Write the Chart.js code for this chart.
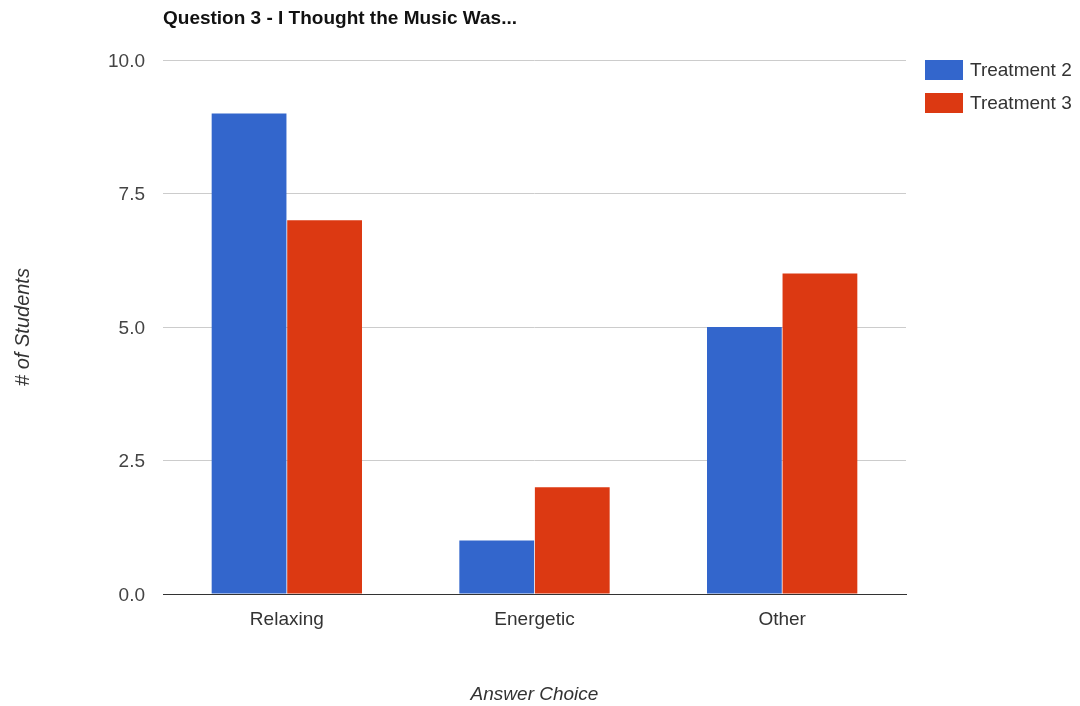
<!DOCTYPE html>
<html>
<head>
<meta charset="utf-8">
<script src="https://cdn.jsdelivr.net/npm/chart.js@4/dist/chart.umd.min.js"></script>
<style>
  html, body { margin: 0; padding: 0; background: #fff; }
  #wrap { width: 1080px; height: 706px; position: relative; }
</style>
</head>
<body>
<div id="wrap"><canvas id="c" width="1080" height="706"></canvas></div>
<script>
// Survey answers per music treatment
const categories = ['Relaxing', 'Energetic', 'Other'];
const treatment2 = [9, 1, 5];
const treatment3 = [7, 2, 6];
const seriesNames = ['Treatment 2', 'Treatment 3'];
const yTicks = [0, 2.5, 5, 7.5, 10];

const chartTitle = 'Question 3 - I Thought the Music Was...';
const xTitle = 'Answer Choice';
const yTitle = '# of Students';

const colors = ['#3366cc', '#dc3912'];
const FONT = 'Arial, "Liberation Sans", sans-serif';

// Title drawn flush with the plot area's left edge
const titlePlugin = {
  id: 'topTitle',
  afterDraw(chart) {
    const ctx = chart.ctx;
    ctx.save();
    ctx.font = 'bold 19px ' + FONT;
    ctx.fillStyle = '#111';
    ctx.textBaseline = 'middle';
    ctx.textAlign = 'left';
    ctx.fillText(chartTitle, chart.chartArea.left, 19);
    ctx.restore();
  }
};

// Legend to the right of the plot area
const sideLegend = {
  id: 'sideLegend',
  afterDraw(chart) {
    const ctx = chart.ctx;
    ctx.save();
    ctx.font = '19px ' + FONT;
    ctx.textBaseline = 'middle';
    ctx.textAlign = 'left';
    chart.data.datasets.forEach((ds, i) => {
      const y = 60 + i * 33;
      ctx.fillStyle = ds.backgroundColor;
      ctx.fillRect(925, y, 38, 20);
      ctx.fillStyle = '#333';
      ctx.fillText(ds.label, 970, y + 11);
    });
    ctx.restore();
  }
};

new Chart(document.getElementById('c'), {
  type: 'bar',
  data: {
    labels: categories,
    datasets: [
      { label: seriesNames[0], data: treatment2, backgroundColor: colors[0] },
      { label: seriesNames[1], data: treatment3, backgroundColor: colors[1] }
    ]
  },
  options: {
    responsive: false,
    animation: false,
    devicePixelRatio: 1,
    layout: { padding: { top: 60, right: 174, left: 0, bottom: 0 } },
    datasets: {
      bar: { categoryPercentage: 0.61, barPercentage: 0.99, borderWidth: 0 }
    },
    plugins: {
      legend: { display: false },
      title: { display: false },
      tooltip: { enabled: false }
    },
    scales: {
      x: {
        grid: { display: false, drawTicks: false },
        border: { display: true, color: '#333', width: 1 },
        ticks: { color: '#333', font: { size: 19, family: FONT }, padding: 14 },
        title: {
          display: true, text: xTitle, color: '#333',
          font: { size: 19, style: 'italic', family: FONT },
          padding: { top: 0, bottom: 0 }
        },
        afterFit(scale) { scale.height = 112; }
      },
      y: {
        min: 0, max: 10,
        afterBuildTicks(scale) { scale.ticks = yTicks.map(v => ({ value: v })); },
        grid: {
          drawTicks: false,
          color: ctx => (ctx.tick && ctx.tick.value === 0) ? 'rgba(0,0,0,0)' : '#cccccc',
          lineWidth: 1
        },
        border: { display: false },
        ticks: {
          color: '#444', font: { size: 19, family: FONT }, padding: 18,
          labelOffset: 1.5,
          callback: v => Number(v).toFixed(1)
        },
        title: {
          display: true, text: yTitle, color: '#333',
          font: { size: 20, style: 'italic', family: FONT },
          padding: { top: 11, bottom: 0 }
        },
        afterFit(scale) { scale.width = 163; }
      }
    }
  },
  plugins: [titlePlugin, sideLegend]
});
</script>
</body>
</html>
